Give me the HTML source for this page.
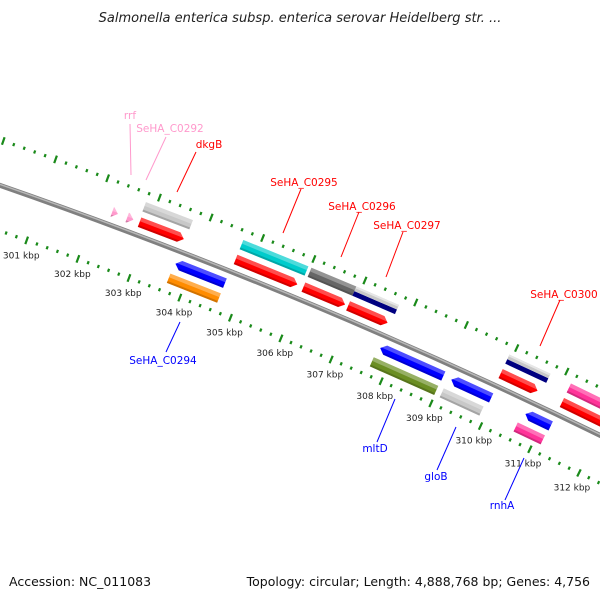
<!DOCTYPE html>
<html><head><meta charset="utf-8"><style>
body{margin:0;background:#fff;}
svg{display:block;font-family:"DejaVu Sans","Liberation Sans",sans-serif;}
</style></head><body>
<svg id="map" width="600" height="600" viewBox="0 0 600 600">
<rect width="600" height="600" fill="#fff"/>
<text x="300" y="22" text-anchor="middle" font-size="13" font-style="italic" fill="#222">Salmonella enterica subsp. enterica serovar Heidelberg str. ...</text>
<g id="ticks"></g>
<g id="backbone"></g>
<g id="feats"></g>
<g id="labels" font-size="10.5">
<line x1="130" y1="124" x2="131" y2="175" stroke="#ff99cc"/>
<text x="130" y="119" text-anchor="middle" fill="#ff99cc">rrf</text>
<line x1="166" y1="137" x2="146" y2="180" stroke="#ff99cc"/>
<text x="170" y="132" text-anchor="middle" fill="#ff99cc">SeHA_C0292</text>
<line x1="196" y1="152" x2="177" y2="192" stroke="#f00"/>
<text x="209" y="148" text-anchor="middle" fill="#f00">dkgB</text>
<line x1="301" y1="189" x2="283" y2="233" stroke="#f00"/>
<text x="304" y="186" text-anchor="middle" fill="#f00">SeHA_C0295</text>
<line x1="359" y1="212" x2="341" y2="257" stroke="#f00"/>
<text x="362" y="210" text-anchor="middle" fill="#f00">SeHA_C0296</text>
<line x1="403" y1="232" x2="386" y2="277" stroke="#f00"/>
<text x="407" y="229" text-anchor="middle" fill="#f00">SeHA_C0297</text>
<line x1="560" y1="300" x2="540" y2="346" stroke="#f00"/>
<text x="564" y="298" text-anchor="middle" fill="#f00">SeHA_C0300</text>
<line x1="180" y1="322" x2="166" y2="352" stroke="#00f"/>
<text x="163" y="364" text-anchor="middle" fill="#00f">SeHA_C0294</text>
<line x1="395" y1="399" x2="377" y2="442" stroke="#00f"/>
<text x="375" y="452" text-anchor="middle" fill="#00f">mltD</text>
<line x1="456" y1="427" x2="437" y2="470" stroke="#00f"/>
<text x="436" y="480" text-anchor="middle" fill="#00f">gloB</text>
<line x1="524" y1="458" x2="505" y2="500" stroke="#00f"/>
<text x="502" y="509" text-anchor="middle" fill="#00f">rnhA</text>
</g>
<text x="9" y="586" font-size="12.5" fill="#111">Accession: NC_011083</text>
<text x="590" y="586" text-anchor="end" font-size="12.5" fill="#111">Topology: circular; Length: 4,888,768 bp; Genes: 4,756</text>
</svg>
<script>
// feature data (kbp)
const featStart = [302.29,302.58,302.80,302.82,304.69,304.69,306.02,306.02,306.90,306.90,309.93,309.93,311.16,311.16,303.70,303.68,307.74,307.70,309.16,309.10,310.65,310.59];
const featEnd   = [302.40,302.70,303.71,303.68,305.96,305.90,306.90,306.84,307.74,307.68,310.75,310.67,312.60,312.60,304.67,304.67,309.00,308.99,309.96,309.90,311.16,311.14];
const featRing  = [13,13,29,13,29,13,29,13,29,13,29,13,29,13,-13,-29,-13,-29,-13,-29,-13,-29];
const featDir   = [1,1,0,1,0,1,0,1,0,1,0,1,0,1,-1,0,-1,0,-1,0,-1,0];
const featColor = ["#ff99cc","#ff99cc","#c8c8c8","#ff0000","#00cccc","#ff0000","#666666","#ff0000","split","#ff0000","split","#ff0000","#ff3399","#ff0000","#0000ff","#ff8c00","#0000ff","#6b8e23","#0000ff","#c8c8c8","#0000ff","#ff3399"];
const tickLabels = [301,302,303,304,305,306,307,308,309,310,311,312];

const NS="http://www.w3.org/2000/svg";
const CX=-1773, CY=5286, R0=5400;
function ang(k){return (-70.37+(k-301)*0.583)*Math.PI/180;}
function P(k,off){const a=ang(k),r=R0+off;return [CX+r*Math.cos(a),CY+r*Math.sin(a)];}
function mk(t,attrs,parent){const e=document.createElementNS(NS,t);for(const k in attrs)e.setAttribute(k,attrs[k]);parent.appendChild(e);return e;}
function pts(a){return a.map(p=>p[0].toFixed(2)+","+p[1].toFixed(2)).join(" ");}

// backbone
const bb=document.getElementById('backbone');
const a0=P(299.5,0),a1=P(313,0);
const d="M"+a0.join(",")+" A"+R0+" "+R0+" 0 0 1 "+a1.join(",");
let e=mk('path',{d:d,stroke:"#808080","stroke-width":5,fill:"none"},bb);


e=mk('path',{d:d,stroke:"#b8b8b8","stroke-width":1.5,fill:"none",transform:"translate(0,-1)"},bb);



// ticks
const tg=document.getElementById('ticks');
for(let i=0;i<=70;i++){
  const k=299.2+i*0.2;
  const major=Math.abs(k-Math.round(k))<0.01;
  [43,-43].forEach(off=>{
    const L=major?4:1.6;
    const p1=P(k,off-L),p2=P(k,off+L);
    const t=mk('line',{x1:p1[0],y1:p1[1],x2:p2[0],y2:p2[1],stroke:"#1a8a1a","stroke-width":2.2},tg);
    
    
  });
}
tickLabels.forEach(k=>{
  const p=P(k,-59);
  const t=mk('text',{x:p[0],y:p[1]+3,"text-anchor":"middle","font-size":9,fill:"#222"},tg);
  t.textContent=k+" kbp";
  
  
});

// features
const fg=document.getElementById('feats');
function band(s,en,dir,o1,o2,mid,fill){
  // polygon between radial offsets o1(inner) and o2(outer), arrow tip at mid
  const al=Math.min(0.1,en-s);
  let poly;
  if(dir===1) poly=[P(s,o1),P(en-al,o1),P(en-al+al*Math.max(0,(Math.abs(o1-mid))/5>1?0:0),o1),P(en,mid),P(en-al,o2),P(s,o2)];
  else if(dir===-1) poly=[P(s+al,o1),P(en,o1),P(en,o2),P(s+al,o2),P(s,mid)];
  else poly=[P(s,o1),P(en,o1),P(en,o2),P(s,o2)];
  return poly;
}
for(let i=0;i<featStart.length;i++){
  const s=featStart[i],en=featEnd[i],m=featRing[i],dir=featDir[i],c=featColor[i];
  const g=mk('g',{},fg);
  
  
  const lo=m-5,hi=m+5;
  const al=Math.min(0.1,en-s);
  function shape(o1,o2,fill){
    // arrow body clipped proportionally to the tip
    let poly;
    const f=o=>1-Math.abs(o-m)/5; // 0 at edges, 1 at center
    if(dir===1){poly=[P(s,o1),P(en-al+al*f(o1),o1),P(en,m),P(en-al+al*f(o2),o2),P(s,o2)];}
    else if(dir===-1){poly=[P(s+al-al*f(o1),o1),P(en,o1),P(en,o2),P(s+al-al*f(o2),o2),P(s,m)];}
    else poly=[P(s,o1),P(en,o1),P(en,o2),P(s,o2)];
    const p=mk('polygon',{points:pts(poly),fill:fill},g);
    
    
  }
  if(c==="split"){
    shape(lo,m,"#000080");
    shape(m,hi,"#c8c8c8");
    shape(m+3,hi,"#e6e6e6");
  } else {
    shape(lo,hi,c);
    shape(lo+6,hi,"rgba(255,255,255,0.3)");
    shape(lo,lo+2,"rgba(0,0,0,0.18)");
  }
}
</script>
</body></html>
